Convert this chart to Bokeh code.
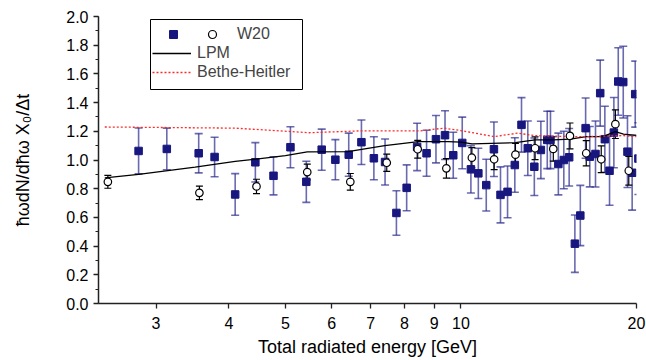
from bokeh.plotting import figure
from bokeh.models import (Range1d, FixedTicker, SingleIntervalTicker, PrintfTickFormatter,
                          ColumnDataSource, Whisker, Legend, LegendItem, TeeHead, BoxAnnotation)
from bokeh.core.properties import value
from bokeh.embed import file_html
from bokeh.resources import INLINE

# ---- data ----
sq_x = [2.80, 3.13, 3.55, 3.78, 4.10, 4.44, 4.77, 5.10, 5.43, 5.77, 6.09, 6.42, 6.75, 7.09,
        7.41, 7.75, 8.07, 8.41, 8.73, 9.06, 9.39, 9.70, 10.05, 10.40, 10.71, 11.05, 11.39,
        11.69, 12.02, 12.37, 12.70, 13.02, 13.36, 13.71, 14.06, 14.24, 14.69, 15.01, 15.33,
        15.68, 16.02, 16.36, 16.63, 17.01, 17.33, 17.65, 17.98, 18.29, 18.61, 18.98, 19.30,
        19.66, 19.90, 20.15]
sq_y = [1.063, 1.077, 1.047, 1.021, 0.760, 0.984, 0.890, 1.089, 0.848, 1.072, 1.002, 1.037,
        1.124, 1.012, 0.986, 0.631, 0.806, 1.091, 1.047, 1.145, 1.173, 1.033, 1.119, 0.935,
        0.907, 0.825, 1.075, 0.757, 0.778, 0.965, 1.245, 1.082, 0.953, 1.070, 1.140, 1.140,
        0.972, 1.000, 1.019, 0.417, 0.613, 1.222, 1.023, 1.042, 1.466, 1.145, 0.925, 1.191,
        1.547, 1.543, 1.058, 0.911, 1.459, 1.010]
sq_err = [0.160, 0.145, 0.137, 0.138, 0.145, 0.137, 0.133, 0.143, 0.143, 0.143, 0.140, 0.150,
          0.155, 0.150, 0.160, 0.155, 0.160, 0.165, 0.160, 0.165, 0.170, 0.160, 0.180, 0.165,
          0.175, 0.180, 0.190, 0.195, 0.180, 0.190, 0.190, 0.190, 0.200, 0.200, 0.200, 0.200,
          0.215, 0.200, 0.200, 0.200, 0.210, 0.210, 0.210, 0.230, 0.230, 0.230, 0.240, 0.245,
          0.235, 0.250, 0.250, 0.260, 0.230, 0.250]

w20_x = [2.48, 3.56, 4.46, 5.45, 6.46, 7.46, 8.43, 9.44, 10.44, 11.40, 12.40, 13.40, 14.40,
         15.38, 16.40, 17.40, 18.40, 19.40]
w20_y = [0.848, 0.771, 0.816, 0.916, 0.848, 0.981, 1.075, 0.942, 1.016, 1.005, 1.037, 1.082,
         1.077, 1.168, 1.047, 1.005, 1.250, 0.925]
w20_err = [0.045, 0.047, 0.050, 0.055, 0.058, 0.060, 0.062, 0.068, 0.070, 0.072, 0.078, 0.080,
           0.085, 0.090, 0.088, 0.093, 0.100, 0.100]

lpm_x = [2.45, 2.8, 3.5, 4.1, 5.0, 5.45, 6.4, 7.4, 8.45, 9.5, 10.0, 10.45, 12.4, 13.4, 14.4,
         15.4, 16.4, 17.5, 18.4, 19.0, 20.0]
lpm_y = [0.875, 0.900, 0.950, 0.990, 1.030, 1.056, 1.058, 1.100, 1.128, 1.128, 1.125, 1.112,
         1.121, 1.140, 1.140, 1.145, 1.163, 1.163, 1.197, 1.180, 1.172]

bh_x = [2.45, 4.1, 5.5, 6.7, 8.5, 9.35, 10.0, 11.4, 12.5, 13.4, 15.4, 16.4, 18.3, 19.0, 20.0]
bh_y = [1.230, 1.222, 1.190, 1.203, 1.203, 1.222, 1.205, 1.163, 1.187, 1.170, 1.163, 1.163,
        1.168, 1.170, 1.163]

x_ticks = [3, 4, 5, 6, 7, 8, 9, 10, 20]

# ---- styling ----
FONT = "'Liberation Sans', Arial, sans-serif"
NAVY = "#17177f"
BAR = "#2b2b8e"

p = figure(width=646, height=360, x_axis_type="log",
           x_range=Range1d(2.39, 20), y_range=Range1d(0, 2.0),
           output_backend="svg", toolbar_location=None,
           min_border_left=98, min_border_right=10, min_border_top=16, min_border_bottom=57)
p.outline_line_color = None
p.xgrid.visible = False
p.ygrid.visible = False

sq_src = ColumnDataSource(dict(x=sq_x, y=sq_y,
                               upper=[a + b for a, b in zip(sq_y, sq_err)],
                               lower=[a - b for a, b in zip(sq_y, sq_err)]))
w_src = ColumnDataSource(dict(x=w20_x, y=w20_y,
                              upper=[a + b for a, b in zip(w20_y, w20_err)],
                              lower=[a - b for a, b in zip(w20_y, w20_err)]))

wh_sq = Whisker(source=sq_src, base="x", upper="upper", lower="lower", dimension="height",
                line_color=BAR, line_alpha=0.7, line_width=1.6, level="underlay",
                upper_head=TeeHead(size=8, line_color=BAR, line_alpha=0.7, line_width=1.6),
                lower_head=TeeHead(size=8, line_color=BAR, line_alpha=0.7, line_width=1.6))
p.add_layout(wh_sq)
wh_w = Whisker(source=w_src, base="x", upper="upper", lower="lower", dimension="height",
               line_color="black", line_width=1.2, level="underlay",
               upper_head=TeeHead(size=7, line_color="black", line_width=1.2),
               lower_head=TeeHead(size=7, line_color="black", line_width=1.2))
p.add_layout(wh_w)

sq_r = p.scatter("x", "y", source=sq_src, marker="square", size=7.5,
                 fill_color=NAVY, line_color=NAVY)
lpm_r = p.line(lpm_x, lpm_y, line_color="black", line_width=1.3)
bh_r = p.line(bh_x, bh_y, line_color="#ff2a2a", line_width=1.3, line_dash="2 2")
w_r = p.scatter("x", "y", source=w_src, marker="circle", size=7.5,
                fill_color="white", line_color="black", line_width=1.2)

# ---- axes ----
for ax in (p.xaxis[0], p.yaxis[0]):
    ax.axis_line_width = 1.5
    ax.axis_line_color = "#222222"
    ax.major_tick_line_color = "#222222"
    ax.minor_tick_line_color = "#222222"
    ax.major_tick_line_width = 1.3
    ax.major_tick_out = 5
    ax.major_tick_in = 0
    ax.minor_tick_out = 3
    ax.minor_tick_in = 0
    ax.major_label_text_font = FONT
    ax.major_label_text_font_size = "16px"
    ax.major_label_text_color = "black"
    ax.axis_label_text_font = FONT
    ax.axis_label_text_font_size = "18px"
    ax.axis_label_text_font_style = "normal"
    ax.axis_label_text_color = "black"

xa = p.xaxis[0]
xa.ticker = FixedTicker(ticks=x_ticks, minor_ticks=[])
xa.formatter = PrintfTickFormatter(format="%d")
xa.major_label_standoff = 8
xa.axis_label = "Total radiated energy [GeV]"
xa.axis_label_standoff = 5

ya = p.yaxis[0]
ya.ticker = SingleIntervalTicker(interval=0.2, num_minor_ticks=2)
ya.formatter = PrintfTickFormatter(format="%.1f")
ya.major_label_standoff = 5
ya.axis_label = "ħωdN/dħω X₀/Δt"
ya.axis_label_standoff = 30

# ---- legend (frame + one legend per row) ----
legend_box = BoxAnnotation(left=150, right=302, top=19, bottom=89,
                           left_units="canvas", right_units="canvas",
                           top_units="canvas", bottom_units="canvas",
                           fill_color="white", fill_alpha=1.0,
                           line_color="black", line_width=1, line_alpha=1.0)
p.add_layout(legend_box)

common = dict(orientation="vertical", padding=0, spacing=0, margin=0,
              glyph_height=22, label_height=22,
              border_line_color=None, background_fill_alpha=0,
              label_text_font=FONT, label_text_font_size="16px")
leg_sq = Legend(items=[LegendItem(label=value(""), renderers=[sq_r])],
                location=(65, 258), glyph_width=20, label_standoff=0, label_width=0, **common)
leg_w = Legend(items=[LegendItem(label="W20", renderers=[w_r])],
               location=(104, 258), glyph_width=20, label_standoff=15, **common)
leg_lpm = Legend(items=[LegendItem(label="LPM", renderers=[lpm_r])],
                 location=(54, 239), glyph_width=39, label_standoff=6, **common)
leg_bh = Legend(items=[LegendItem(label="Bethe-Heitler", renderers=[bh_r])],
                location=(54, 220), glyph_width=39, label_standoff=6, **common)
for lg in (leg_sq, leg_w, leg_lpm, leg_bh):
    p.add_layout(lg)

open("out.html", "w").write(file_html(p, INLINE))
